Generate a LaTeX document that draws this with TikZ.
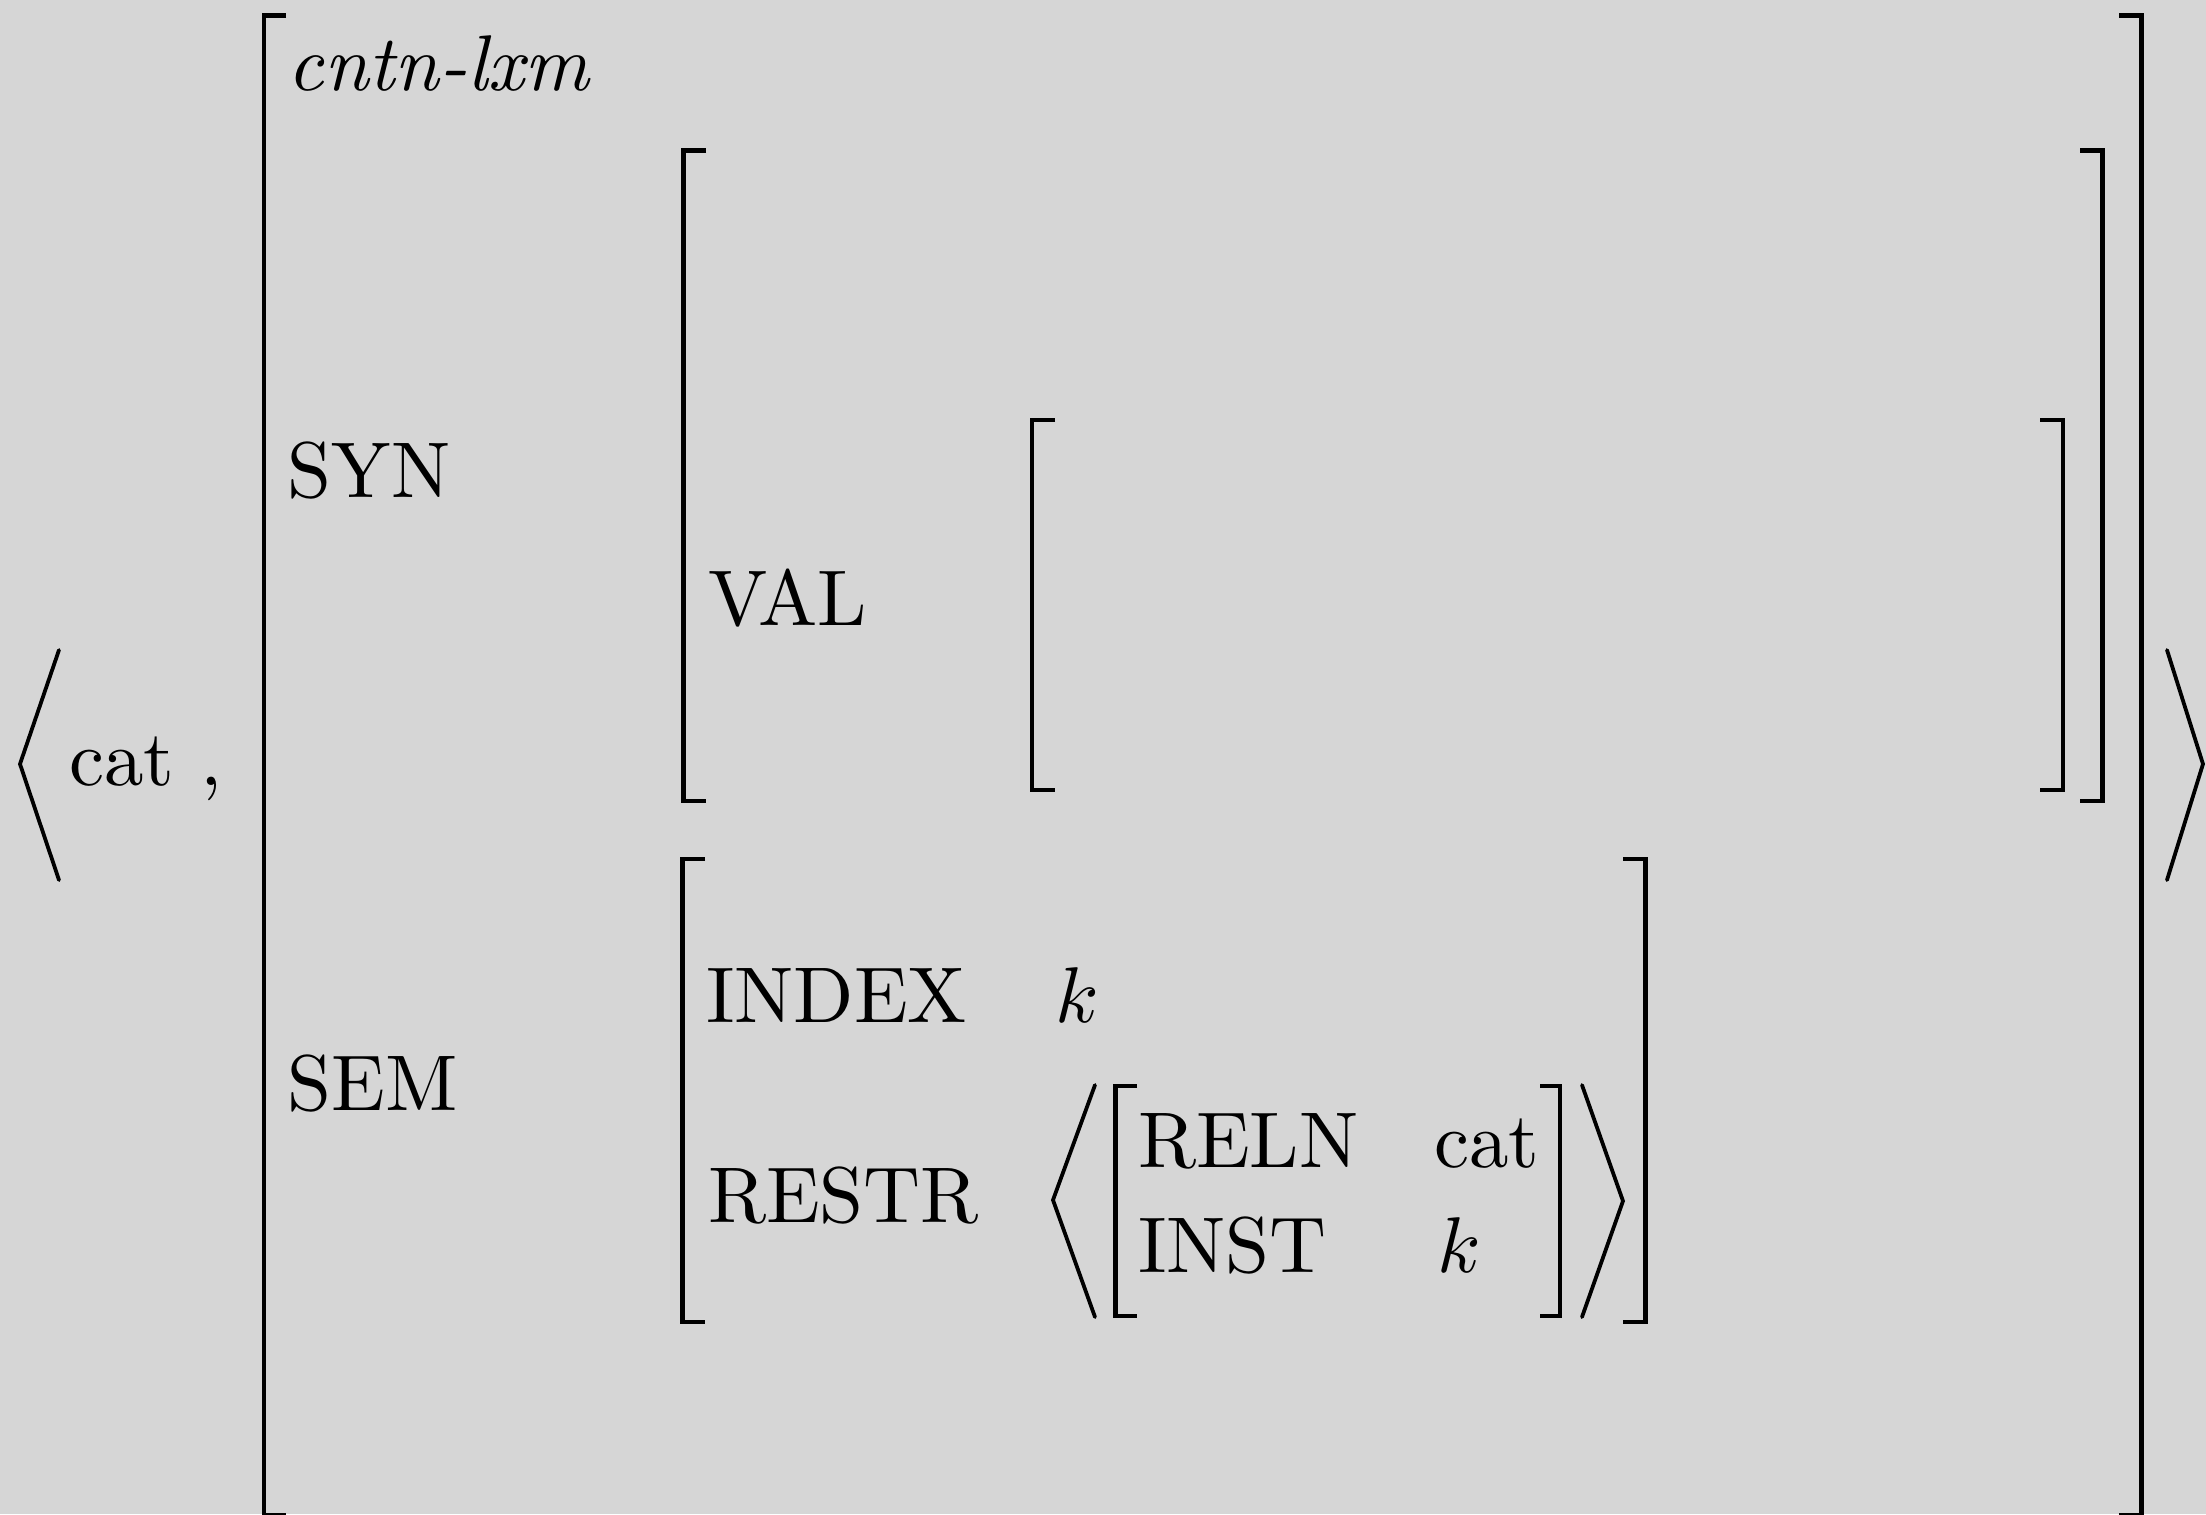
\documentclass[tikz,border=0pt]{standalone}
\definecolor{bggray}{RGB}{214,214,214}
\begin{document}
\begin{tikzpicture}[x=0.12658pt, y=-0.12658pt,
    lbl/.style={anchor=base west, inner sep=0pt, outer sep=0pt},
    brak/.style={line width=0.6pt, line join=miter},
    angl/.style={line width=0.48pt, line cap=round, line join=miter}]
      \useasboundingbox (0,0) rectangle (2206,1514);
      \fill[bggray] (0,0) rectangle (2206,1514);
      \draw[angl] (59,650) -- (20,764) -- (59,880);
      \draw[angl] (2167,650) -- (2203,764) -- (2167,880);
      \node[lbl] (word) at (69,785) {cat ,};
      \draw[brak] (286,15.5) -- (264,15.5) -- (264,1515) -- (286,1515);
      \draw[brak] (2119,15.5) -- (2141.5,15.5) -- (2141.5,1515) -- (2119,1515);
      \node[lbl] (type) at (288,90) {\textit{cntn-lxm}};
      \node[lbl] (syn) at (288,497) {SYN};
      \draw[brak] (706,150.5) -- (683.5,150.5) -- (683.5,801) -- (706,801);
      \draw[brak] (2080,150.5) -- (2102.5,150.5) -- (2102.5,801) -- (2080,801);
      \node[lbl] (val) at (708,625) {VAL};
      \draw[brak] (1055,420) -- (1032,420) -- (1032,790) -- (1055,790);
      \draw[brak] (2040,420) -- (2063,420) -- (2063,790) -- (2040,790);
      \node[lbl] (sem) at (288,1110) {SEM};
      \draw[brak] (705,859) -- (682.5,859) -- (682.5,1322) -- (705,1322);
      \draw[brak] (1623,859) -- (1645.5,859) -- (1645.5,1322) -- (1623,1322);
      \node[lbl] (index) at (706,1022) {INDEX};
      \node[lbl] (indexval) at (1055,1022) {$k$};
      \node[lbl] (restr) at (708,1222) {RESTR};
      \draw[angl] (1095,1085) -- (1053,1200) -- (1095,1317);
      \draw[angl] (1582,1085) -- (1623,1201) -- (1582,1317);
      \draw[brak] (1137,1086) -- (1115.5,1086) -- (1115.5,1316) -- (1137,1316);
      \draw[brak] (1540,1086) -- (1560,1086) -- (1560,1316) -- (1540,1316);
      \node[lbl] (reln) at (1138,1167) {RELN};
      \node[lbl] (relnval) at (1434,1167) {cat};
      \node[lbl] (inst) at (1138,1272) {INST};
      \node[lbl] (instval) at (1437,1272) {$k$};
\end{tikzpicture}
\end{document}
